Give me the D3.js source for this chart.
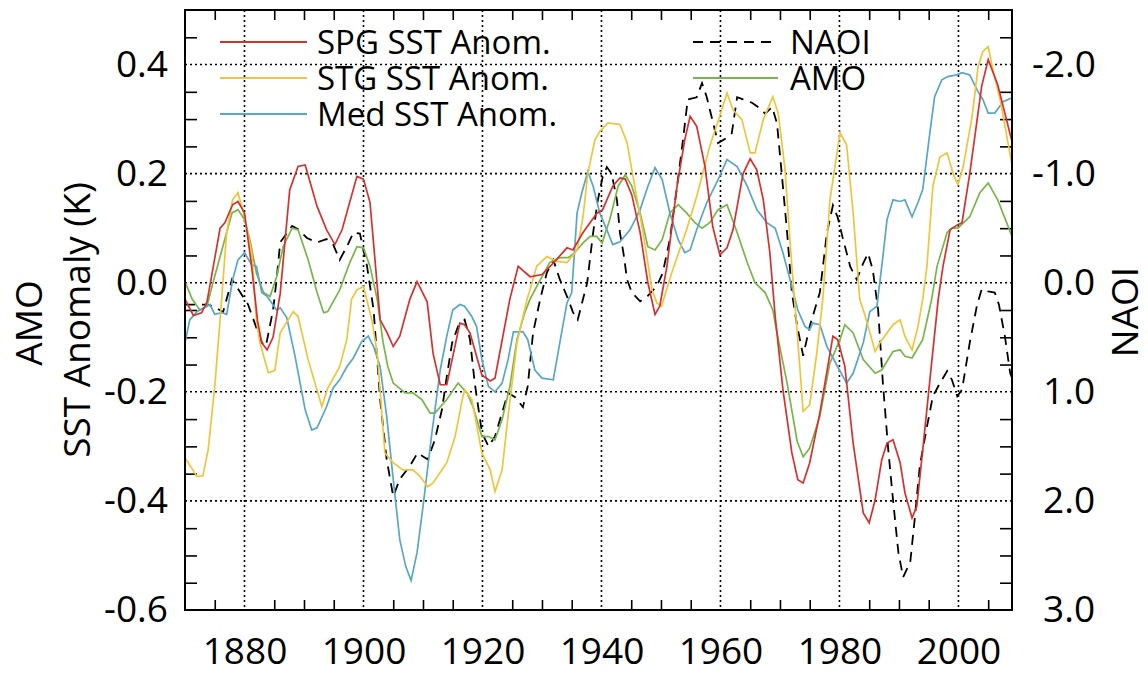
<!DOCTYPE html>
<html>
<head>
<meta charset="utf-8">
<script src="https://cdn.jsdelivr.net/npm/d3@7/dist/d3.min.js"></script>
<style>
  html, body { margin: 0; padding: 0; background: #fff; }
  svg { display: block; font-family: "Open Sans", "Noto Sans", sans-serif; }
</style>
</head>
<body>
<svg id="chart" width="1148" height="675"></svg>
<script>
// ---------------- DATA ----------------
const spgYears = [1870,1871.4,1872.8,1873.7,1875.9,1876.7,1878,1878.9,1880,1881.2,1882.2,1882.9,1883.8,1884.8,1886,1887.6,1889,1890.2,1892.2,1893.8,1895.2,1896.4,1898.9,1900,1901.1,1902.8,1903.9,1905,1906.1,1907.8,1909,1910.7,1911.7,1912.9,1914,1916.2,1917,1917.9,1919.9,1921.3,1922.1,1924.6,1926,1928,1930,1931.9,1934.2,1935.2,1936.9,1939.2,1940.2,1941.9,1943.1,1944,1945.1,1946.5,1947.8,1949,1949.8,1951,1952.7,1954,1954.9,1956,1957.4,1958.7,1959.9,1961.1,1962.1,1963.8,1965,1966.1,1967.2,1968.3,1969.2,1970.5,1972,1973,1973.9,1975,1976.7,1978.9,1979.7,1980.9,1982.3,1984,1985,1986,1987.1,1988,1989,1990.2,1991,1992.2,1993,1994,1995.2,1996.6,1997.4,1998.6,1999.8,2000.6,2001.9,2003.9,2005,2006.6,2009];
const spgValues = [-0.03,-0.06,-0.055,-0.035,0.10,0.11,0.143,0.149,0.128,0.03,-0.07,-0.11,-0.123,-0.10,-0.02,0.17,0.213,0.216,0.14,0.097,0.07,0.097,0.195,0.19,0.147,-0.068,-0.09,-0.117,-0.098,-0.03,0.002,-0.035,-0.13,-0.187,-0.187,-0.074,-0.077,-0.092,-0.169,-0.18,-0.175,-0.03,0.03,0.011,0.015,0.036,0.064,0.06,0.092,0.127,0.134,0.177,0.192,0.19,0.161,0.092,0,-0.058,-0.043,0.03,0.177,0.262,0.305,0.287,0.213,0.103,0.051,0.064,0.097,0.2,0.227,0.207,0.152,0.055,-0.062,-0.196,-0.312,-0.361,-0.367,-0.33,-0.239,-0.098,-0.104,-0.153,-0.294,-0.422,-0.44,-0.398,-0.325,-0.294,-0.288,-0.33,-0.385,-0.431,-0.41,-0.306,-0.178,-0.03,0.03,0.097,0.106,0.11,0.2,0.36,0.409,0.363,0.259];

const stgYears = [1870,1872,1873,1873.9,1875,1875.9,1877,1878,1878.9,1880,1881.2,1882,1882.6,1884,1885.1,1886,1888.2,1889,1890.7,1893,1894,1896,1897.2,1898,1898.9,1900,1901.4,1902.3,1903.6,1905,1906.6,1908.3,1909.5,1910.8,1911.7,1914,1915.4,1916.6,1917,1918.2,1919.9,1921.3,1922.1,1923.3,1924.3,1925.8,1927.5,1928,1929.1,1930.8,1932.5,1934.2,1935.9,1936.9,1937.7,1938.9,1939.7,1941.1,1943.1,1944.3,1945.3,1947,1948.5,1949.3,1950.1,1951.8,1954.3,1956,1958.2,1959.6,1961.1,1962.1,1963.6,1965,1965.8,1967.2,1968.8,1969.7,1970.8,1972,1972.9,1973.9,1975,1976.2,1977.2,1978.4,1980.1,1981.2,1982.3,1983.4,1984.3,1986,1986.8,1989,1990.2,1991,1992.2,1993.2,1994,1994.7,1995.7,1996.9,1998.1,1999.1,1999.9,2000.8,2002.3,2003.3,2004.1,2005,2005.8,2007,2009];
const stgValues = [-0.321,-0.355,-0.354,-0.306,-0.19,-0.068,0.092,0.152,0.165,0.121,0.055,-0.068,-0.11,-0.165,-0.161,-0.092,-0.053,-0.062,-0.141,-0.227,-0.193,-0.154,-0.104,-0.03,-0.013,-0.007,-0.068,-0.128,-0.312,-0.33,-0.343,-0.343,-0.355,-0.374,-0.367,-0.33,-0.282,-0.214,-0.196,-0.214,-0.312,-0.343,-0.383,-0.343,-0.245,-0.11,-0.03,-0.013,0.03,0.048,0.039,0.037,0.06,0.121,0.2,0.262,0.277,0.293,0.29,0.257,0.195,0.092,-0.013,-0.037,-0.043,0.018,0.097,0.158,0.25,0.296,0.348,0.317,0.299,0.238,0.238,0.299,0.341,0.311,0.213,0.03,-0.092,-0.236,-0.224,-0.128,-0.03,0.152,0.275,0.253,0.128,-0.03,-0.06,-0.126,-0.11,-0.077,-0.068,-0.098,-0.123,-0.08,-0.03,0.03,0.177,0.231,0.238,0.2,0.18,0.213,0.305,0.396,0.424,0.433,0.39,0.336,0.216];

const medYears = [1870,1870.8,1872,1874.2,1875,1876.2,1877,1878,1878.9,1880,1881.2,1882,1882.9,1883.8,1885.4,1886,1887.1,1888.5,1890.2,1891.3,1892.2,1893.8,1894.9,1896,1897.2,1898.3,1899.7,1900.8,1901.7,1902.8,1903.9,1905,1906.1,1907.1,1908,1909,1910,1911.5,1912.9,1914,1915,1916.2,1917,1918.2,1919,1919.9,1921,1922.1,1923.3,1924.3,1925.2,1926.8,1927.6,1928.8,1930,1931.9,1933,1934.2,1935,1935.9,1936.7,1937.7,1938.6,1939.7,1940.9,1941.9,1943.1,1944.8,1946.5,1947.8,1949,1950.2,1951.5,1952.9,1954,1954.9,1956,1957.7,1959.6,1961.1,1962.8,1964.5,1966.1,1967.8,1969.2,1970.5,1972,1973,1974.2,1975,1975.5,1976.7,1977.9,1979.7,1981.2,1982.3,1984,1985.1,1986.3,1987.3,1988,1989,1990.2,1991,1992.2,1993.2,1994,1995.2,1996,1997.2,1998.2,1999.7,2000.6,2001.9,2003.1,2004.1,2005,2006.1,2007.5,2009];
const medValues = [-0.11,-0.068,-0.053,-0.04,-0.058,-0.055,-0.058,0.005,0.042,0.055,0.033,0.03,-0.018,-0.025,-0.05,-0.046,-0.064,-0.135,-0.233,-0.27,-0.266,-0.227,-0.193,-0.178,-0.154,-0.138,-0.108,-0.098,-0.117,-0.154,-0.245,-0.361,-0.471,-0.52,-0.546,-0.495,-0.411,-0.275,-0.16,-0.098,-0.05,-0.04,-0.043,-0.062,-0.08,-0.141,-0.19,-0.2,-0.184,-0.141,-0.09,-0.09,-0.104,-0.16,-0.175,-0.178,-0.11,-0.037,-0.018,0.128,0.165,0.204,0.177,0.128,0.097,0.07,0.075,0.097,0.134,0.177,0.211,0.189,0.128,0.079,0.055,0.06,0.097,0.147,0.189,0.226,0.213,0.177,0.134,0.11,0.1,0.055,-0.007,-0.05,-0.08,-0.086,-0.074,-0.077,-0.117,-0.154,-0.184,-0.166,-0.11,-0.053,-0.043,0.048,0.116,0.152,0.149,0.152,0.121,0.147,0.171,0.275,0.341,0.372,0.378,0.381,0.385,0.381,0.354,0.336,0.311,0.311,0.332,0.339];

const amoYears = [1870,1871.2,1872.5,1873.7,1874.7,1876.2,1877.9,1878.9,1880,1880.9,1882,1883.2,1884.3,1885.4,1886.5,1888,1889,1890.7,1892.2,1893.3,1894,1896,1897.7,1898.9,1900,1901.1,1902.3,1903.3,1904.1,1905,1907,1908.3,1909.8,1911.2,1912,1914,1915.9,1917.4,1918.4,1919.9,1921,1922.1,1923.3,1924.6,1925.8,1927.1,1928,1929.7,1931.3,1933,1934.4,1935.5,1936.9,1938.1,1939.2,1940.1,1941.4,1942.8,1944,1945.1,1946.5,1947.8,1949,1950.2,1951.5,1952.9,1954.3,1955.7,1956.9,1958.2,1959.6,1961.1,1962.8,1964.5,1965.8,1967.5,1968.8,1969.5,1971.2,1972.9,1973.9,1975,1976.7,1978.4,1980.1,1980.9,1982.3,1984,1986,1987.1,1989,1990.2,1991,1992.2,1994,1995.5,1996.4,1998.1,1998.9,1999.9,2001.9,2003.6,2005,2006.6,2009];
const amoValues = [0.002,-0.03,-0.05,-0.043,0,0.06,0.128,0.134,0.116,0.079,0.018,-0.018,-0.025,0.011,0.066,0.1,0.097,0.042,-0.018,-0.055,-0.053,-0.013,0.037,0.066,0.064,0.03,-0.03,-0.11,-0.154,-0.184,-0.202,-0.202,-0.214,-0.239,-0.239,-0.214,-0.184,-0.202,-0.227,-0.282,-0.282,-0.288,-0.251,-0.19,-0.104,-0.055,-0.03,0.005,0.037,0.046,0.046,0.055,0.073,0.085,0.085,0.073,0.116,0.177,0.198,0.177,0.128,0.066,0.06,0.079,0.128,0.143,0.128,0.11,0.1,0.11,0.134,0.143,0.092,0.037,0,-0.018,-0.05,-0.092,-0.184,-0.291,-0.319,-0.303,-0.245,-0.147,-0.104,-0.077,-0.092,-0.141,-0.166,-0.16,-0.126,-0.123,-0.135,-0.138,-0.104,-0.03,0.03,0.092,0.1,0.1,0.121,0.165,0.183,0.152,0.085];

// NAOI in its own units (right axis, inverted)
const naoYears = [1870,1871.5,1873.7,1875,1876.4,1877.9,1879.3,1880.6,1882.9,1883.6,1884.8,1885.4,1886,1888,1889,1890.5,1892.2,1893.8,1894.9,1896,1897.2,1898.3,1899.4,1900.6,1901.7,1902.8,1903.9,1905,1906.1,1907.8,1909.1,1910.8,1912,1913.2,1914,1914.9,1915.9,1917,1917.9,1918.7,1919.9,1921,1922.1,1923.3,1924.3,1925.5,1926.8,1927.6,1928.5,1929.7,1930.8,1931.9,1933,1934.4,1935.2,1936,1936.9,1937.6,1938.6,1939.4,1940.2,1940.9,1941.7,1942.6,1943.1,1943.7,1944.3,1945.1,1946.5,1947.8,1949.3,1950.3,1951.5,1952.7,1953.7,1954.5,1956,1956.9,1957.7,1958.6,1959.6,1960.8,1961.9,1962.8,1963.8,1965.3,1966.6,1967.5,1968.7,1969.5,1970.3,1971.2,1972,1972.9,1973.9,1975,1976.7,1977.9,1978.9,1979.7,1980.6,1981.8,1982.9,1984,1984.8,1985.6,1986.5,1987.3,1988.2,1989,1989.9,1990.7,1991.9,1992.7,1993.5,1994.7,1995.7,1996.9,1998.1,1998.9,1999.8,2000.6,2001.9,2003.1,2003.9,2005,2006.1,2006.8,2007.8,2008.7,2009];
const naoValues = [0.20,0.20,0.20,0.22,0.27,-0.03,0.09,0.20,0.55,0.58,0.25,-0.03,-0.37,-0.52,-0.49,-0.41,-0.37,-0.40,-0.35,-0.21,-0.33,-0.46,-0.45,-0.15,0.25,1.07,1.62,1.96,1.80,1.68,1.56,1.62,1.44,1.16,0.86,0.55,0.40,0.34,0.52,0.92,1.37,1.50,1.41,1.19,1.01,1.05,1.14,0.95,0.46,0.15,-0.09,-0.21,-0.03,0.15,0.27,0.34,0.15,0,-0.46,-0.76,-0.97,-1.06,-1.0,-0.76,-0.46,-0.27,-0.03,0.09,0.17,0.12,0.03,-0.09,-0.40,-0.88,-1.31,-1.68,-1.70,-1.83,-1.70,-1.50,-1.28,-1.32,-1.37,-1.70,-1.68,-1.65,-1.60,-1.55,-1.61,-1.46,-1.0,-0.46,0.09,0.40,0.67,0.40,0.09,-0.46,-0.71,-0.60,-0.40,-0.15,-0.03,-0.18,-0.27,-0.12,0.25,0.92,1.53,1.99,2.47,2.70,2.56,2.14,1.68,1.32,1.04,0.92,0.81,0.89,1.04,0.98,0.55,0.21,0.06,0.08,0.09,0.2,0.49,0.83,0.87];

const xLabels = [1880, 1900, 1920, 1940, 1960, 1980, 2000];
const yLeftLabels = [-0.6, -0.4, -0.2, 0.0, 0.2, 0.4];
const yRightLabels = [3.0, 2.0, 1.0, 0.0, -1.0, -2.0];

const legendLeft = ["SPG SST Anom.", "STG SST Anom.", "Med SST Anom."];
const legendRight = ["NAOI", "AMO"];

// ---------------- LAYOUT ----------------
const svg = d3.select("#chart");
const L = 185, R = 1012, T = 10, B = 610;
const x = d3.scaleLinear().domain([1870, 2009]).range([L, R]);
const y = d3.scaleLinear().domain([-0.6, 0.5]).range([B, T]);
const yN = d3.scaleLinear().domain([3.0, -2.5]).range([B, T]);

const colors = { spg: "#d7312e", stg: "#f2c43c", med: "#58a6ca", amo: "#77b648", nao: "#000" };
const fmt1 = d => (Math.abs(d) < 1e-9 ? 0 : d).toFixed(1); // plain hyphen-minus like the reference

// grid
const gridX = xLabels;
const gridY = [-0.4, -0.2, 0.0, 0.2, 0.4];
svg.append("g").selectAll("line").data(gridX).join("line")
  .attr("x1", d => x(d)).attr("x2", d => x(d)).attr("y1", T).attr("y2", B)
  .attr("stroke", "#000").attr("stroke-width", 1.6).attr("stroke-dasharray", "2,3");
svg.append("g").selectAll("line").data(gridY).join("line")
  .attr("y1", d => y(d)).attr("y2", d => y(d)).attr("x1", L).attr("x2", R)
  .attr("stroke", "#000").attr("stroke-width", 1.6).attr("stroke-dasharray", "2,3");

// minor ticks
const minorY = d3.range(-55, 50, 5).map(v => v / 100).filter(v => Math.abs(Math.round(v * 100) % 20) !== 0);
const minorX = d3.range(1875, 2009, 5).filter(v => v % 20 !== 0);
const tickStyle = g => { g.select(".domain").remove(); g.selectAll("line").attr("stroke", "#000").attr("stroke-width", 1.6); };
svg.append("g").attr("transform", `translate(${L},0)`)
  .call(d3.axisRight(y).tickValues(minorY).tickSize(12).tickFormat("")).call(tickStyle);
svg.append("g").attr("transform", `translate(${R},0)`)
  .call(d3.axisLeft(y).tickValues(minorY).tickSize(12).tickFormat("")).call(tickStyle);
svg.append("g").attr("transform", `translate(0,${B})`)
  .call(d3.axisTop(x).tickValues(minorX).tickSize(10).tickFormat("")).call(tickStyle);
svg.append("g").attr("transform", `translate(0,${T})`)
  .call(d3.axisBottom(x).tickValues(minorX).tickSize(10).tickFormat("")).call(tickStyle);

// series lines
const mkLine = (xs, ys, sc) => d3.line().x((d, i) => x(xs[i])).y((d, i) => sc(ys[i]));
const plot = svg.append("g");
plot.append("path").datum(naoValues).attr("d", mkLine(naoYears, naoValues, yN))
  .attr("fill", "none").attr("stroke", colors.nao).attr("stroke-width", 1.8).attr("stroke-dasharray", "10,7");
plot.append("path").datum(amoValues).attr("d", mkLine(amoYears, amoValues, y))
  .attr("fill", "none").attr("stroke", colors.amo).attr("stroke-width", 1.7);
plot.append("path").datum(medValues).attr("d", mkLine(medYears, medValues, y))
  .attr("fill", "none").attr("stroke", colors.med).attr("stroke-width", 1.7);
plot.append("path").datum(stgValues).attr("d", mkLine(stgYears, stgValues, y))
  .attr("fill", "none").attr("stroke", colors.stg).attr("stroke-width", 1.7);
plot.append("path").datum(spgValues).attr("d", mkLine(spgYears, spgValues, y))
  .attr("fill", "none").attr("stroke", colors.spg).attr("stroke-width", 1.7);

// frame
svg.append("rect").attr("x", L).attr("y", T).attr("width", R - L).attr("height", B - T)
  .attr("fill", "none").attr("stroke", "#000").attr("stroke-width", 2);

// tick labels
const FS = 37;
const labStyle = g => { g.select(".domain").remove(); g.selectAll("line").remove();
  g.selectAll("text").attr("font-size", FS).attr("fill", "#000").attr("font-family", '"Open Sans", sans-serif'); };
svg.append("g").attr("transform", `translate(${L},0)`)
  .call(d3.axisLeft(y).tickValues(yLeftLabels).tickSize(0).tickPadding(17).tickFormat(fmt1))
  .call(labStyle);
const rAx = svg.append("g").attr("transform", `translate(${R},0)`)
  .call(d3.axisRight(yN).tickValues(yRightLabels).tickSize(0).tickPadding(20).tickFormat(fmt1))
  .call(labStyle);
rAx.selectAll("text").attr("x", d => d < 0 ? 20 : 31);
svg.append("g").attr("transform", `translate(0,${B})`)
  .call(d3.axisBottom(x).tickValues(xLabels).tickSize(0).tickPadding(28).tickFormat(d3.format("d")))
  .call(labStyle);

// axis titles
svg.append("text").attr("transform", "translate(42,323) rotate(-90)").attr("text-anchor", "middle")
  .attr("font-size", FS).text("AMO");
svg.append("text").attr("transform", "translate(90,320) rotate(-90)").attr("text-anchor", "middle")
  .attr("font-size", FS).text("SST Anomaly (K)");
svg.append("text").attr("transform", "translate(1138,312) rotate(-90)").attr("text-anchor", "middle")
  .attr("font-size", FS).text("NAOI");

// legend
const LFS = 33;
const legL = [colors.spg, colors.stg, colors.med];
legendLeft.forEach((t, i) => {
  const yy = 42 + i * 36;
  svg.append("line").attr("x1", 220).attr("x2", 307).attr("y1", yy).attr("y2", yy)
    .attr("stroke", legL[i]).attr("stroke-width", 2);
  svg.append("text").attr("x", 317).attr("y", yy + 12).attr("font-size", LFS).text(t);
});
const legR = [{ c: colors.nao, dash: "10,7", w: 1.8 }, { c: colors.amo, dash: null, w: 2 }];
legendRight.forEach((t, i) => {
  const yy = 42 + i * 36;
  svg.append("line").attr("x1", 693).attr("x2", 778).attr("y1", yy).attr("y2", yy)
    .attr("stroke", legR[i].c).attr("stroke-width", legR[i].w).attr("stroke-dasharray", legR[i].dash);
  svg.append("text").attr("x", 790).attr("y", yy + 12).attr("font-size", LFS).text(t);
});
</script>
</body>
</html>
